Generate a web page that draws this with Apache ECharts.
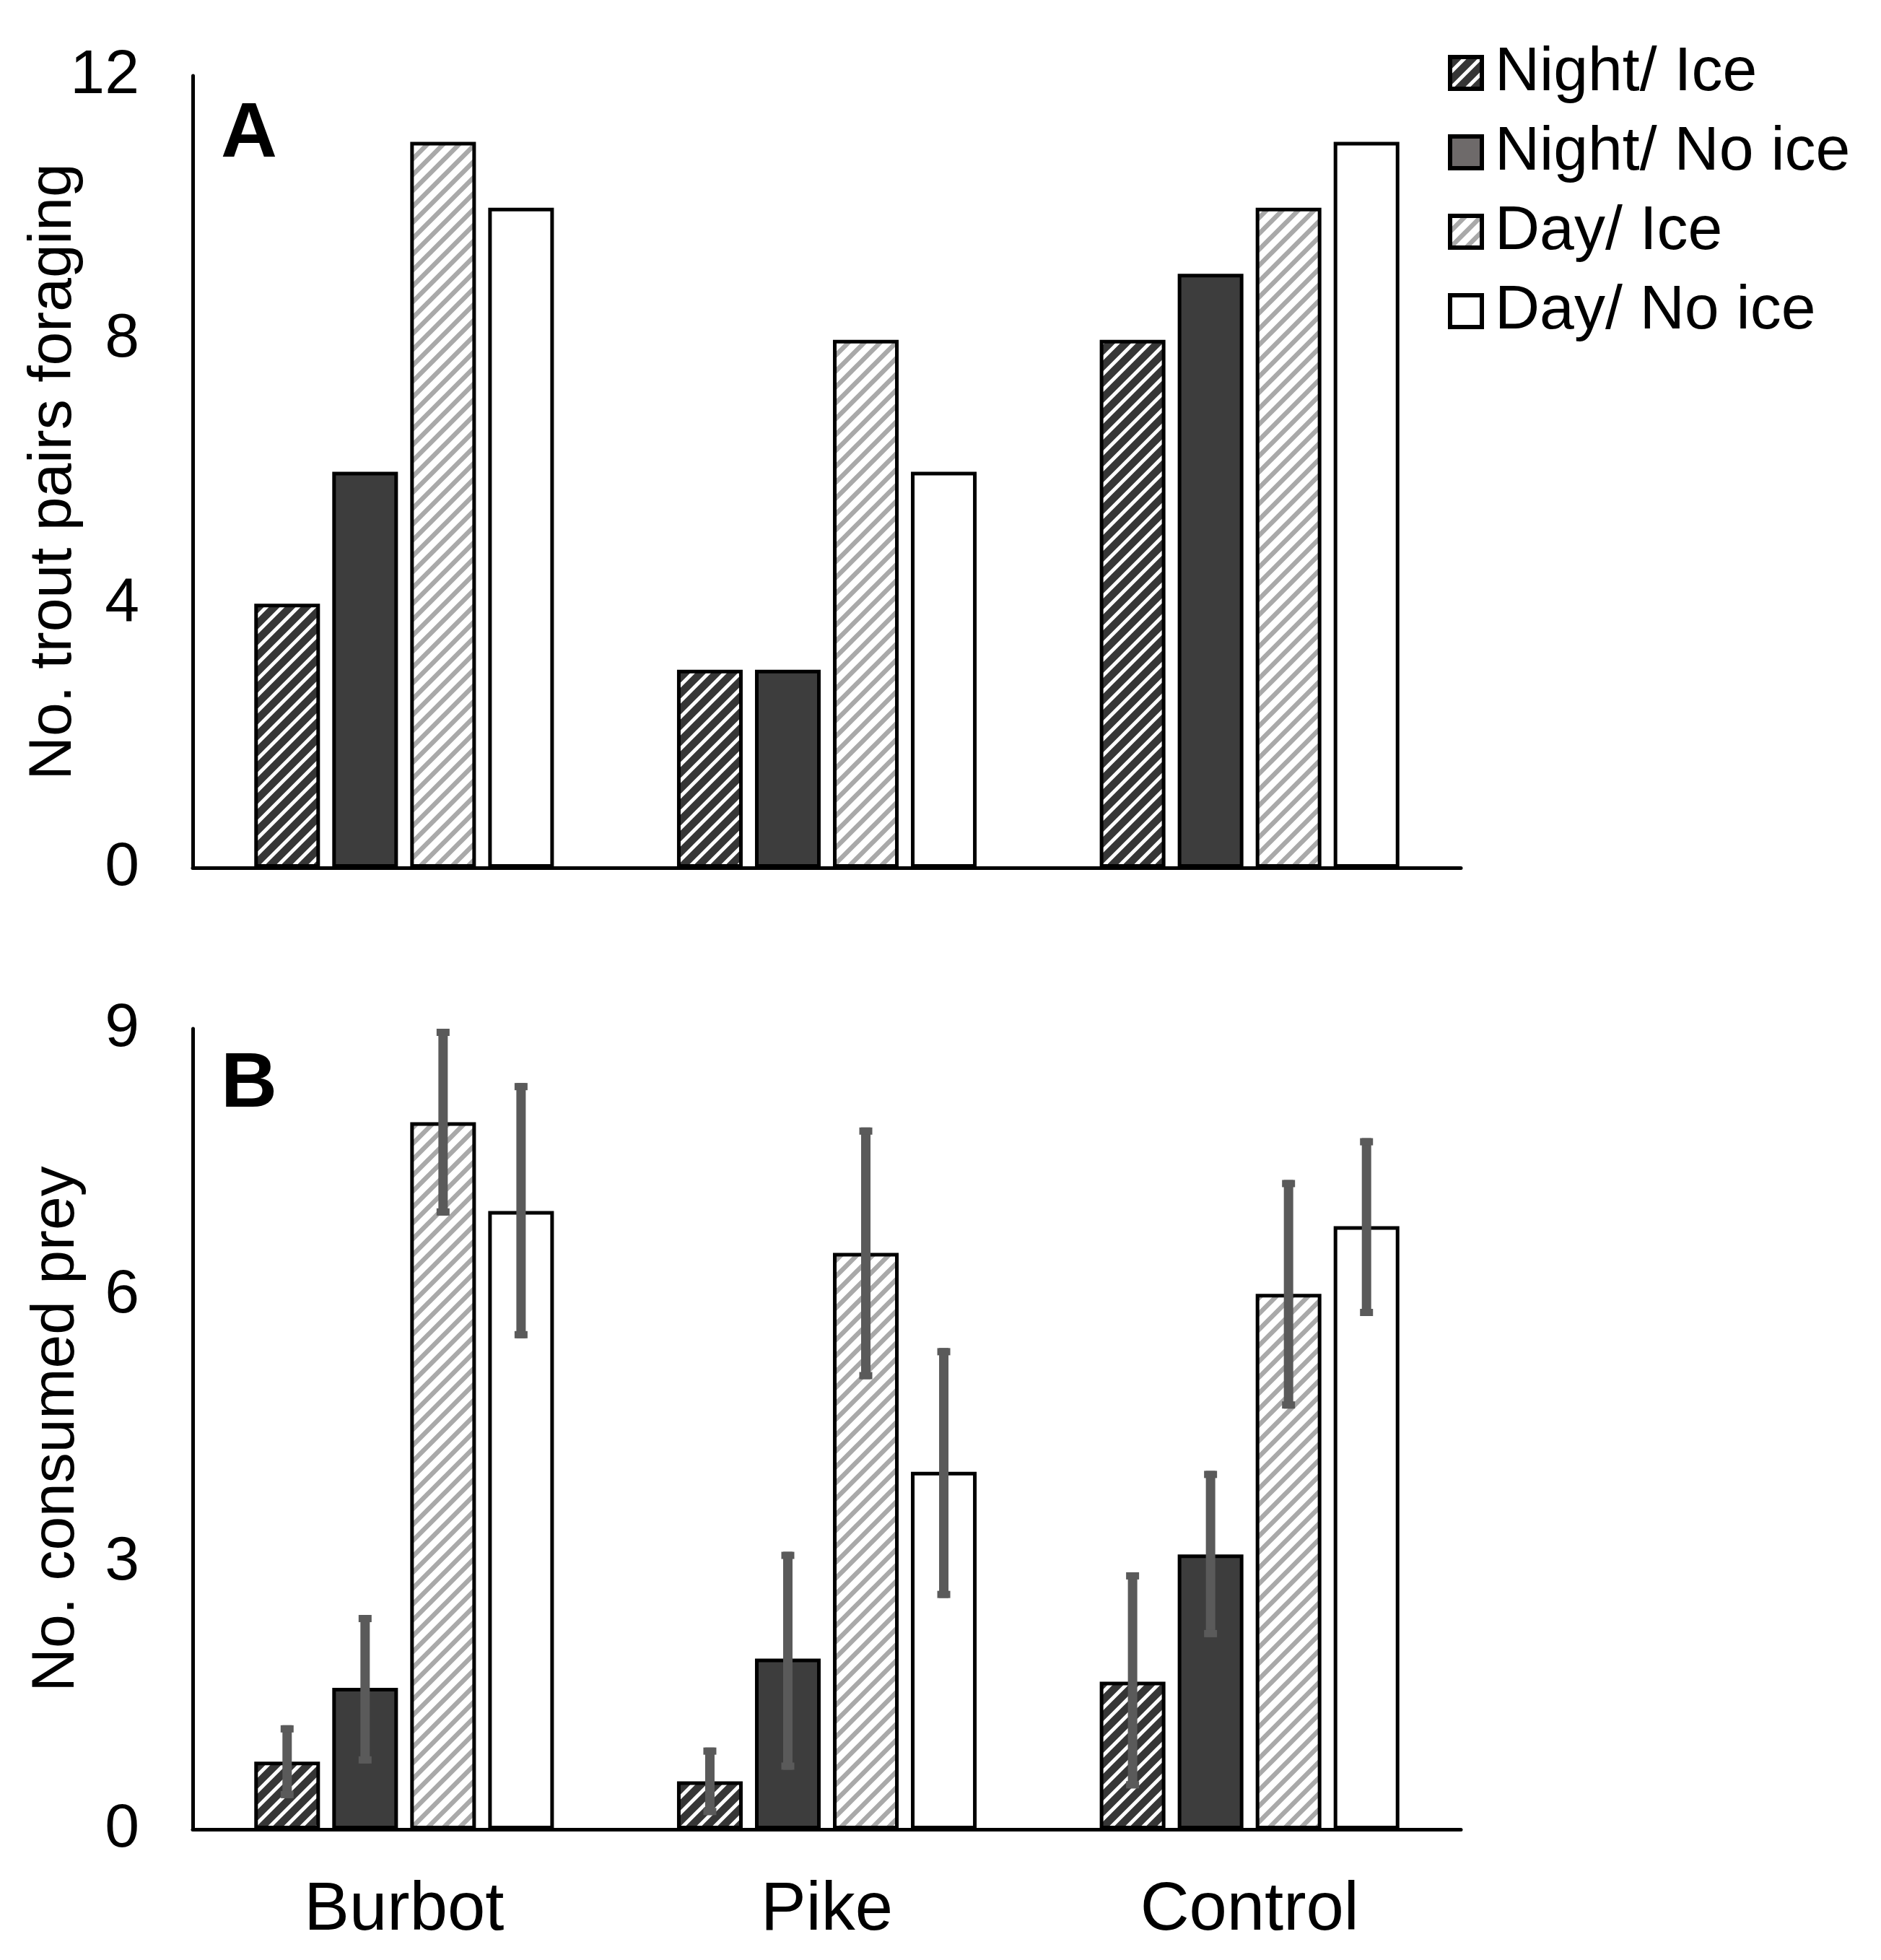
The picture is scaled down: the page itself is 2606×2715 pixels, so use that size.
<!DOCTYPE html>
<html>
<head>
<meta charset="utf-8">
<script src="https://cdn.jsdelivr.net/npm/echarts@6/dist/echarts.min.js"></script>
<style>
html,body{margin:0;padding:0;background:#fff;}
#chart{width:2606px;height:2715px;}
</style>
</head>
<body>
<div id="chart"></div>
<script>
// ---------- DATA ----------
const categories = ['Burbot', 'Pike', 'Control'];
const seriesNames = ['Night/ Ice', 'Night/ No ice', 'Day/ Ice', 'Day/ No ice'];
const yTicksA = [0, 4, 8, 12];
const yTicksB = [0, 3, 6, 9];

// Panel A: No. trout pairs foraging
const foragingNightIce   = [4, 3, 8];
const foragingNightNoIce = [6, 3, 9];
const foragingDayIce     = [11, 8, 10];
const foragingDayNoIce   = [10, 6, 11];

// Panel B: No. consumed prey (mean, error-bar low, error-bar high)
const preyNightIce       = [0.76, 0.54, 1.66];
const preyNightIceLow    = [0.35, 0.16, 0.46];
const preyNightIceHigh   = [1.17, 0.92, 2.89];
const preyNightNoIce     = [1.59, 1.92, 3.09];
const preyNightNoIceLow  = [0.74, 0.67, 2.16];
const preyNightNoIceHigh = [2.41, 3.12, 4.03];
const preyDayIce         = [7.95, 6.48, 6.02];
const preyDayIceLow      = [6.90, 5.06, 4.73];
const preyDayIceHigh     = [9.00, 7.89, 7.30];
const preyDayNoIce       = [6.95, 4.02, 6.78];
const preyDayNoIceLow    = [5.52, 2.60, 5.77];
const preyDayNoIceHigh   = [8.39, 5.41, 7.77];

// ---------- STYLE ----------
const FONT = "'Liberation Sans', Arial, sans-serif";
const BAR_W = 0.1554;   // fraction of category band
const BAR_GAP = 0.187;  // fraction of bar width

function makeHatch(bg, fg, lw) {
  const s = 22;
  const c = document.createElement('canvas');
  c.width = s; c.height = s;
  const ctx = c.getContext('2d');
  ctx.fillStyle = bg; ctx.fillRect(0, 0, s, s);
  ctx.strokeStyle = fg; ctx.lineWidth = lw; ctx.lineCap = 'square';
  ctx.beginPath();
  ctx.moveTo(-s, 2 * s); ctx.lineTo(2 * s, -s);
  ctx.moveTo(-s, s); ctx.lineTo(s, -s);
  ctx.moveTo(0, 2 * s); ctx.lineTo(2 * s, 0);
  ctx.stroke();
  return { image: c, repeat: 'repeat' };
}
const fills = [
  makeHatch('#363636', '#ffffff', 5),
  '#3d3d3d',
  makeHatch('#ffffff', '#a9a9a9', 6.5),
  '#ffffff'
];

const foragingSets = [foragingNightIce, foragingNightNoIce, foragingDayIce, foragingDayNoIce];
const preySets = [preyNightIce, preyNightNoIce, preyDayIce, preyDayNoIce];
const preyLow = [preyNightIceLow, preyNightNoIceLow, preyDayIceLow, preyDayNoIceLow];
const preyHigh = [preyNightIceHigh, preyNightNoIceHigh, preyDayIceHigh, preyDayNoIceHigh];

const errData = [];
for (let j = 0; j < 4; j++) {
  for (let i = 0; i < categories.length; i++) {
    errData.push([i, j, preyLow[j][i], preyHigh[j][i]]);
  }
}

const GRID_LEFT = 267, GRID_W = 1757;

function xAxisCfg(gridIndex, showLabels) {
  return {
    type: 'category', gridIndex: gridIndex, data: categories,
    axisLine: { show: true, lineStyle: { color: '#000', width: 5 } },
    axisTick: { show: false },
    axisLabel: { show: showLabels, color: '#000', fontSize: 94, fontFamily: FONT, margin: 66 },
    splitLine: { show: false }
  };
}
function yAxisCfg(gridIndex, ticks, name, gap) {
  return {
    type: 'value', gridIndex: gridIndex,
    min: ticks[0], max: ticks[ticks.length - 1], interval: ticks[1] - ticks[0],
    name: name, nameLocation: 'middle', nameRotate: 90, nameGap: gap,
    nameMoveOverlap: false,
    nameTextStyle: { color: '#000', fontSize: 84, fontFamily: FONT },
    axisLine: { show: true, lineStyle: { color: '#000', width: 5 } },
    axisTick: { show: false },
    axisLabel: { color: '#000', fontSize: 86, fontFamily: FONT, margin: 74 },
    splitLine: { show: false }
  };
}

const series = [];
for (let j = 0; j < 4; j++) {
  series.push({
    name: seriesNames[j], type: 'bar', xAxisIndex: 0, yAxisIndex: 0,
    data: foragingSets[j],
    barWidth: (BAR_W * 100) + '%', barGap: (BAR_GAP * 100) + '%',
    itemStyle: { color: fills[j], borderColor: '#000', borderWidth: 5 },
    emphasis: { disabled: true }, animation: false
  });
}
for (let j = 0; j < 4; j++) {
  series.push({
    name: seriesNames[j], type: 'bar', xAxisIndex: 1, yAxisIndex: 1,
    data: preySets[j],
    barWidth: (BAR_W * 100) + '%', barGap: (BAR_GAP * 100) + '%',
    itemStyle: { color: fills[j], borderColor: '#000', borderWidth: 5 },
    emphasis: { disabled: true }, animation: false
  });
}
series.push({
  type: 'custom', xAxisIndex: 1, yAxisIndex: 1, data: errData, z: 10, clip: false,
  encode: { x: 0, y: [2, 3] }, animation: false, silent: true,
  renderItem: function (params, api) {
    const cat = api.value(0), j = api.value(1);
    const band = api.size([1, 0])[0];
    const bw = band * BAR_W, pitch = bw + bw * BAR_GAP;
    const cx = api.coord([cat, 0])[0] + (j - 1.5) * pitch;
    const yLo = api.coord([cat, api.value(2)])[1];
    const yHi = api.coord([cat, api.value(3)])[1];
    const col = '#5a5a5a';
    return {
      type: 'group',
      children: [
        { type: 'line', shape: { x1: cx, y1: yLo, x2: cx, y2: yHi }, style: { stroke: col, lineWidth: 13 } },
        { type: 'rect', shape: { x: cx - 9, y: yHi, width: 18, height: 10 }, style: { fill: col } },
        { type: 'rect', shape: { x: cx - 9, y: yLo - 10, width: 18, height: 10 }, style: { fill: col } }
      ]
    };
  }
});

const chart = echarts.init(document.getElementById('chart'), null, { renderer: 'canvas' });
chart.setOption({
  backgroundColor: '#fff',
  animation: false,
  grid: [
    { left: GRID_LEFT, top: 105, width: GRID_W, height: 1097 },
    { left: GRID_LEFT, top: 1425, width: GRID_W, height: 1109 }
  ],
  xAxis: [xAxisCfg(0, false), xAxisCfg(1, true)],
  yAxis: [yAxisCfg(0, yTicksA, 'No. trout pairs foraging', 150), yAxisCfg(1, yTicksB, 'No. consumed prey', 146)],
  legend: {
    orient: 'vertical', left: 2006, top: 58, padding: 0,
    itemWidth: 44, itemHeight: 44, itemGap: 24,
    icon: 'rect',
    itemStyle: { borderColor: '#000', borderWidth: 6 },
    textStyle: { color: '#000', fontSize: 86, fontFamily: FONT, lineHeight: 85, padding: [0, 0, 0, 13] },
    data: [
      { name: seriesNames[0] },
      { name: seriesNames[1], itemStyle: { color: '#6e6a6a' } },
      { name: seriesNames[2] },
      { name: seriesNames[3] }
    ],
    selectedMode: false
  },
  graphic: [
    { type: 'text', x: 306, y: 187, style: { text: 'A', fontSize: 108, fontWeight: 'bold', fontFamily: FONT, fill: '#000', align: 'left', verticalAlign: 'middle' } },
    { type: 'text', x: 306, y: 1503, style: { text: 'B', fontSize: 108, fontWeight: 'bold', fontFamily: FONT, fill: '#000', align: 'left', verticalAlign: 'middle' } }
  ],
  series: series
});
</script>
</body>
</html>
